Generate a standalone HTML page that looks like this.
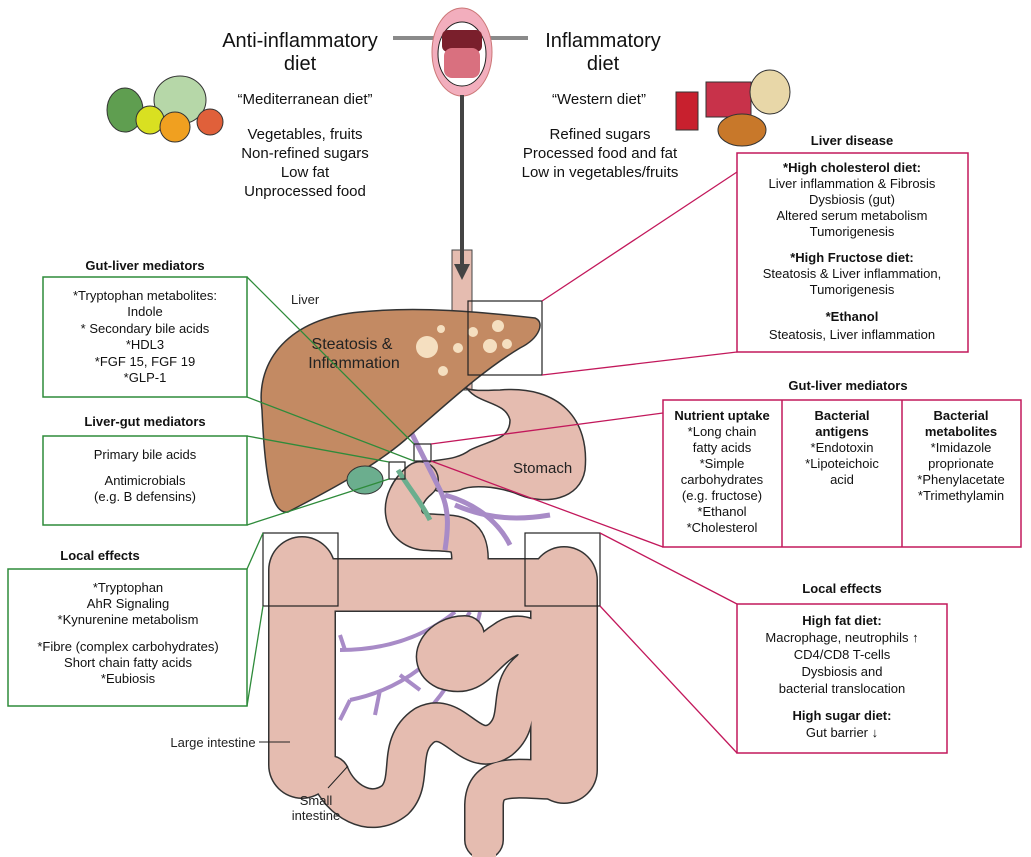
<!DOCTYPE html>
<html><head><meta charset="utf-8"><style>
body{margin:0;background:#fff}
svg{display:block;font-family:"Liberation Sans",Arial,sans-serif}
</style></head><body>
<svg width="1031" height="857" viewBox="0 0 1031 857">
<rect width="1031" height="857" fill="#fff"/>
<!-- mouth -->
<line x1="393" y1="38" x2="528" y2="38" stroke="#8a8a8a" stroke-width="4"/>
<ellipse cx="462" cy="52" rx="30" ry="44" fill="#f2aebd" stroke="#c77" stroke-width="1"/>
<ellipse cx="462" cy="54" rx="24" ry="32" fill="#fff" stroke="#222" stroke-width="1"/>
<rect x="442" y="30" width="40" height="22" rx="6" fill="#7a1f2c"/>
<rect x="444" y="48" width="36" height="30" rx="8" fill="#d9707f"/>
<!-- esophagus -->
<rect x="452" y="250" width="20" height="140" fill="#e5bcb0" stroke="#444" stroke-width="1"/>
<line x1="462" y1="95" x2="462" y2="268" stroke="#444" stroke-width="4"/>
<polygon points="454,264 470,264 462,280" fill="#444"/>
<!-- stomach -->
<path d="M452,370 C455,395 480,390 500,390 C560,385 590,420 585,470 C580,500 545,505 520,495 C495,485 470,485 460,490 C440,495 420,490 420,470 C425,455 450,465 470,450 C490,440 510,440 510,420 C505,400 475,405 465,385 Z" fill="#e5bcb0" stroke="#333" stroke-width="1.5"/>
<text x="513" y="473" font-size="15" fill="#222">Stomach</text>
<!-- vessels in mesentery (behind intestines) -->
<g fill="none" stroke="#a88bc7" stroke-width="4">
<path d="M470,612 C440,660 400,690 350,700"/>
<path d="M455,612 C420,640 380,650 340,650"/>
<path d="M480,612 C470,660 440,700 410,730"/>
<path d="M540,612 C535,650 520,690 495,720"/>
<path d="M350,700 L340,720 M380,690 L375,715 M400,675 L420,690 M345,650 L340,635"/>
</g>
<!-- intestines outline -->
<g fill="none" stroke="#333" stroke-linecap="round" stroke-linejoin="round">
<path d="M420,480 C395,500 400,530 425,532 C455,534 470,530 470,560" stroke-width="38"/>
<path d="M302,570 L302,765" stroke-width="68"/>
<path d="M302,585 L565,585" stroke-width="54"/>
<path d="M564,580 L564,770" stroke-width="68"/>
<path d="M560,780 C520,780 485,770 484,805 L484,840" stroke-width="40"/>
<path d="M330,775 C340,800 370,820 395,800 C415,780 395,745 425,725 C455,710 470,760 500,740 C525,720 505,690 530,670 C550,650 525,625 505,640 C480,655 475,680 445,670 C425,660 440,635 465,635" stroke-width="40"/>
</g>
<g fill="none" stroke="#e5bcb0" stroke-linecap="round" stroke-linejoin="round">
<path d="M420,480 C395,500 400,530 425,532 C455,534 470,530 470,560" stroke-width="35"/>
<path d="M330,775 C340,800 370,820 395,800 C415,780 395,745 425,725 C455,710 470,760 500,740 C525,720 505,690 530,670 C550,650 525,625 505,640 C480,655 475,680 445,670 C425,660 440,635 465,635" stroke-width="37"/>
<path d="M560,780 C520,780 485,770 484,805 L484,840" stroke-width="37"/>
<path d="M302,570 L302,765" stroke-width="65"/>
<path d="M302,585 L565,585" stroke-width="51"/>
<path d="M564,580 L564,770" stroke-width="65"/>
</g>
<rect x="472" y="830" width="24" height="27" fill="#e5bcb0"/>
<!-- upper vessels -->
<g fill="none" stroke="#a88bc7" stroke-width="5">
<path d="M410,430 L440,490 C450,510 448,530 445,550"/>
<path d="M445,495 C480,505 500,525 510,545"/>
<path d="M455,505 C490,520 520,520 550,515"/>
</g>
<path d="M398,470 C410,490 420,500 430,520" fill="none" stroke="#6bae8e" stroke-width="5"/>
<!-- liver -->
<path d="M262,410 C255,360 290,318 360,312 C420,306 480,312 535,318 C545,322 540,338 520,348 C480,372 440,410 405,440 C370,470 320,495 288,512 C272,515 265,480 262,410 Z" fill="#c38a63" stroke="#333" stroke-width="1.5"/>
<ellipse cx="365" cy="480" rx="18" ry="14" fill="#6bae8e" stroke="#333"/>
<g fill="#f5dfc0">
<circle cx="427" cy="347" r="11"/><circle cx="441" cy="329" r="4"/><circle cx="458" cy="348" r="5"/><circle cx="443" cy="371" r="5"/>
<circle cx="473" cy="332" r="5"/><circle cx="498" cy="326" r="6"/><circle cx="490" cy="346" r="7"/><circle cx="507" cy="344" r="5"/>
</g>
<text x="352" y="349" font-size="16" text-anchor="middle" fill="#222">Steatosis &amp;</text>
<text x="354" y="368" font-size="16" text-anchor="middle" fill="#222">Inflammation</text>
<text x="291" y="304" font-size="13" fill="#222">Liver</text>
<text x="213" y="747" font-size="13" text-anchor="middle" fill="#222">Large intestine</text>
<line x1="259" y1="742" x2="290" y2="742" stroke="#222"/>
<text x="316" y="805" font-size="13" text-anchor="middle" fill="#222">Small</text>
<text x="316" y="820" font-size="13" text-anchor="middle" fill="#222">intestine</text>
<line x1="328" y1="788" x2="348" y2="766" stroke="#222"/>
<!-- squares -->
<g fill="none" stroke="#222" stroke-width="1.2">
<rect x="468" y="301" width="74" height="74"/><rect x="414" y="444" width="17" height="17"/><rect x="389" y="462" width="16" height="17"/>
<rect x="263" y="533" width="75" height="73"/><rect x="525" y="533" width="75" height="73"/>
</g>
<!-- connectors -->
<g stroke="#c2185b" stroke-width="1.3" fill="none">
<polyline points="542,301 737,172"/><polyline points="542,375 737,352"/>
<line x1="431" y1="444" x2="663" y2="413"/><line x1="431" y1="461" x2="663" y2="547"/>
<line x1="600" y1="533" x2="737" y2="604"/><line x1="600" y1="606" x2="737" y2="753"/>
</g>
<g stroke="#2e8b3a" stroke-width="1.3" fill="none">
<line x1="247" y1="277" x2="414" y2="444"/><line x1="247" y1="397" x2="414" y2="461"/>
<line x1="247" y1="436" x2="389" y2="462"/><line x1="247" y1="525" x2="389" y2="479"/>
<line x1="247" y1="569" x2="263" y2="533"/><line x1="247" y1="706" x2="263" y2="606"/>
</g>
<!-- diet text -->
<g font-size="20" text-anchor="middle" fill="#111">
<text x="300" y="47">Anti-inflammatory</text><text x="300" y="70">diet</text>
<text x="603" y="47">Inflammatory</text><text x="603" y="70">diet</text>
</g>
<g font-size="15" text-anchor="middle" fill="#111">
<text x="305" y="104">“Mediterranean diet”</text>
<text x="305" y="139">Vegetables, fruits</text><text x="305" y="158">Non-refined sugars</text>
<text x="305" y="177">Low fat</text><text x="305" y="196">Unprocessed food</text>
<text x="599" y="104">“Western diet”</text>
<text x="600" y="139">Refined sugars</text><text x="600" y="158">Processed food and fat</text>
<text x="600" y="177">Low in vegetables/fruits</text>
</g>
<!-- food icons -->
<g stroke="#333" stroke-width="1">
<ellipse cx="125" cy="110" rx="18" ry="22" fill="#5f9e50"/><ellipse cx="180" cy="100" rx="26" ry="24" fill="#b6d7a8"/>
<circle cx="150" cy="120" r="14" fill="#d9e021"/><circle cx="175" cy="127" r="15" fill="#f0a020"/><circle cx="210" cy="122" r="13" fill="#e0603a"/>
<rect x="706" y="82" width="45" height="35" fill="#c8324a"/><rect x="676" y="92" width="22" height="38" fill="#c8202e"/>
<ellipse cx="770" cy="92" rx="20" ry="22" fill="#e8d7a8"/><ellipse cx="742" cy="130" rx="24" ry="16" fill="#c8782a"/>
</g>
<!-- boxes -->
<g fill="none" stroke-width="1.5">
<rect x="737" y="153" width="231" height="199" stroke="#c2185b"/>
<rect x="663" y="400" width="358" height="147" stroke="#c2185b"/>
<line x1="782" y1="400" x2="782" y2="547" stroke="#c2185b"/><line x1="902" y1="400" x2="902" y2="547" stroke="#c2185b"/>
<rect x="737" y="604" width="210" height="149" stroke="#c2185b"/>
<rect x="43" y="277" width="204" height="120" stroke="#2e8b3a"/>
<rect x="43" y="436" width="204" height="89" stroke="#2e8b3a"/>
<rect x="8" y="569" width="239" height="137" stroke="#2e8b3a"/>
</g>
<g font-size="13" text-anchor="middle" fill="#111">
<text x="852" y="145" font-weight="bold">Liver disease</text>
<text x="852" y="172" font-weight="bold">*High cholesterol diet:</text>
<text x="852" y="188">Liver inflammation &amp; Fibrosis</text><text x="852" y="204">Dysbiosis (gut)</text>
<text x="852" y="220">Altered serum metabolism</text><text x="852" y="236">Tumorigenesis</text>
<text x="852" y="262" font-weight="bold">*High Fructose diet:</text>
<text x="852" y="278">Steatosis &amp; Liver inflammation,</text><text x="852" y="294">Tumorigenesis</text>
<text x="852" y="321" font-weight="bold">*Ethanol</text><text x="852" y="339">Steatosis, Liver inflammation</text>
<text x="848" y="390" font-weight="bold">Gut-liver mediators</text>
<text x="722" y="420" font-weight="bold">Nutrient uptake</text>
<text x="722" y="436">*Long chain</text><text x="722" y="452">fatty acids</text><text x="722" y="468">*Simple</text>
<text x="722" y="484">carbohydrates</text><text x="722" y="500">(e.g. fructose)</text><text x="722" y="516">*Ethanol</text><text x="722" y="532">*Cholesterol</text>
<text x="842" y="420" font-weight="bold">Bacterial</text><text x="842" y="436" font-weight="bold">antigens</text>
<text x="842" y="452">*Endotoxin</text><text x="842" y="468">*Lipoteichoic</text><text x="842" y="484">acid</text>
<text x="961" y="420" font-weight="bold">Bacterial</text><text x="961" y="436" font-weight="bold">metabolites</text>
<text x="961" y="452">*Imidazole</text><text x="961" y="468">proprionate</text><text x="961" y="484">*Phenylacetate</text><text x="961" y="500">*Trimethylamin</text>
<text x="842" y="593" font-weight="bold">Local effects</text>
<text x="842" y="625" font-weight="bold">High fat diet:</text>
<text x="842" y="642">Macrophage, neutrophils ↑</text><text x="842" y="659">CD4/CD8 T-cells</text>
<text x="842" y="676">Dysbiosis and</text><text x="842" y="693">bacterial translocation</text>
<text x="842" y="720" font-weight="bold">High sugar diet:</text><text x="842" y="737">Gut barrier ↓</text>
<text x="145" y="270" font-weight="bold">Gut-liver mediators</text>
<text x="145" y="300">*Tryptophan metabolites:</text><text x="145" y="316">Indole</text>
<text x="145" y="333">* Secondary bile acids</text><text x="145" y="349">*HDL3</text>
<text x="145" y="366">*FGF 15, FGF 19</text><text x="145" y="382">*GLP-1</text>
<text x="145" y="426" font-weight="bold">Liver-gut mediators</text>
<text x="145" y="459">Primary bile acids</text><text x="145" y="485">Antimicrobials</text><text x="145" y="501">(e.g. B defensins)</text>
<text x="100" y="560" font-weight="bold">Local effects</text>
<text x="128" y="592">*Tryptophan</text><text x="128" y="608">AhR Signaling</text><text x="128" y="624">*Kynurenine metabolism</text>
<text x="128" y="651">*Fibre (complex carbohydrates)</text><text x="128" y="667">Short chain fatty acids</text><text x="128" y="683">*Eubiosis</text>
</g>
</svg>
</body></html>
